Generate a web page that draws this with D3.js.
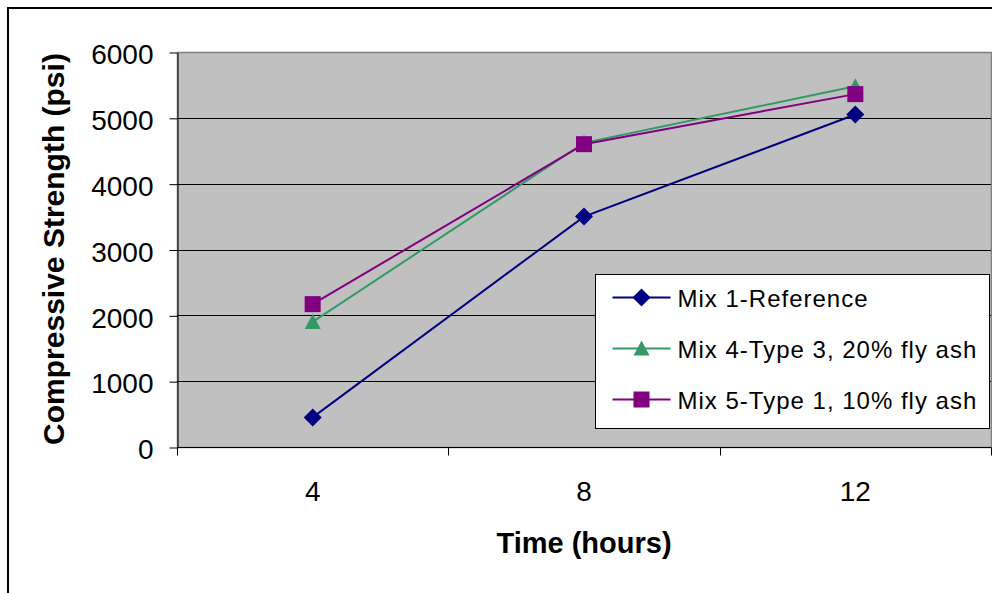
<!DOCTYPE html>
<html>
<head>
<meta charset="utf-8">
<script src="https://cdn.jsdelivr.net/npm/d3@7"></script>
<style>
  body { margin: 0; background: #fff; }
  svg { display: block; font-family: Arial, "Liberation Sans", sans-serif; }
</style>
</head>
<body>
<svg id="chart" width="992" height="593"></svg>
<script>
var hours = ["4", "8", "12"];
var mix1 = [450, 3500, 5050];
var mix4 = [1900, 4620, 5480];
var mix5 = [2170, 4600, 5360];
var seriesNames = ["Mix 1-Reference", "Mix 4-Type 3, 20% fly ash", "Mix 5-Type 1, 10% fly ash"];
var yTicks = [0, 1000, 2000, 3000, 4000, 5000, 6000];

var series = [
    {name: seriesNames[0], values: mix1, color: "#000080", shape: "diamond"},
    {name: seriesNames[1], values: mix4, color: "#339966", shape: "triangle"},
    {name: seriesNames[2], values: mix5, color: "#800080", shape: "square"}
];

var svg = d3.select("#chart");
var plotL = 177, plotT = 52, plotR = 991, plotB = 447;

// outer chart frame (right/bottom fall outside the window)
svg.append("rect")
    .attr("x", 8).attr("y", 8)
    .attr("width", 1000).attr("height", 600)
    .attr("fill", "none").attr("stroke", "#000").attr("stroke-width", 2);

var x = d3.scaleBand().domain(hours).range([plotL, plotR]);
var y = d3.scaleLinear().domain([0, 6000]).range([plotB, plotT]);

svg.append("rect")
    .attr("x", plotL + 0.5).attr("y", plotT + 0.5)
    .attr("width", plotR - plotL).attr("height", plotB - plotT)
    .attr("fill", "#c0c0c0").attr("stroke", "#808080").attr("stroke-width", 1.5);

// gridlines
svg.append("g").selectAll("line")
    .data(yTicks.slice(1, -1))
    .enter().append("line")
    .attr("x1", plotL).attr("x2", plotR)
    .attr("y1", function (d) { return Math.round(y(d)) + 0.5; })
    .attr("y2", function (d) { return Math.round(y(d)) + 0.5; })
    .attr("stroke", "#000");

// y axis
var yAxis = svg.append("g")
    .attr("transform", "translate(" + (plotL + 0.5) + ",0.5)")
    .call(d3.axisLeft(y).tickValues(yTicks).tickSize(8).tickSizeOuter(0).tickPadding(16).tickFormat(d3.format("d")));
yAxis.selectAll("text")
    .attr("font-size", 28).attr("fill", "#000").attr("dy", "0.4em")
    .attr("font-family", "Arial, 'Liberation Sans', sans-serif");
yAxis.selectAll("line, path").attr("stroke", "#000");

// x axis: ticks at band boundaries, labels at band centres
var xg = svg.append("g").attr("transform", "translate(0," + (plotB + 0.5) + ")");
xg.append("line").attr("x1", plotL).attr("x2", plotR).attr("stroke", "#000");
var bounds = hours.map(function (d) { return x(d); }).concat([plotR]);
xg.selectAll("line.tick")
    .data(bounds)
    .enter().append("line")
    .attr("class", "tick")
    .attr("x1", function (d) { return Math.round(d) + 0.5; })
    .attr("x2", function (d) { return Math.round(d) + 0.5; })
    .attr("y1", 0).attr("y2", 8)
    .attr("stroke", "#000");
xg.selectAll("text")
    .data(hours)
    .enter().append("text")
    .attr("x", function (d) { return x(d) + x.bandwidth() / 2; })
    .attr("y", 53)
    .attr("text-anchor", "middle")
    .attr("font-size", 28)
    .text(function (d) { return d; });

// axis titles
svg.append("text")
    .attr("transform", "translate(64," + 249 + ") rotate(-90)")
    .attr("text-anchor", "middle")
    .attr("font-size", 30).attr("font-weight", "bold")
    .text("Compressive Strength (psi)");
svg.append("text")
    .attr("x", 584).attr("y", 553)
    .attr("text-anchor", "middle")
    .attr("font-size", 29).attr("font-weight", "bold")
    .text("Time (hours)");

function cx(d, i) { return x(hours[i]) + x.bandwidth() / 2; }

function drawMarker(g, shape, color) {
    if (shape === "diamond") {
        g.append("path").attr("d", "M0,-9L9,0L0,9L-9,0Z").attr("fill", color);
    } else if (shape === "triangle") {
        g.append("path").attr("d", "M0,-8L8,7L-8,7Z").attr("fill", color);
    } else {
        g.append("rect").attr("x", -8).attr("y", -8).attr("width", 16).attr("height", 16).attr("fill", color);
    }
}

var line = d3.line()
    .x(function (d, i) { return cx(d, i); })
    .y(function (d) { return y(d); });

series.forEach(function (s) {
    svg.append("path")
        .attr("d", line(s.values))
        .attr("fill", "none")
        .attr("stroke", s.color)
        .attr("stroke-width", 2);
});
series.forEach(function (s) {
    s.values.forEach(function (v, i) {
        var g = svg.append("g").attr("transform", "translate(" + cx(v, i) + "," + y(v) + ")");
        drawMarker(g, s.shape, s.color);
    });
});

// legend
var lg = svg.append("g").attr("transform", "translate(595.5,274.5)");
lg.append("rect").attr("width", 394).attr("height", 154)
    .attr("fill", "#fff").attr("stroke", "#000");
series.forEach(function (s, i) {
    var ly = 23 + i * 51;
    var row = lg.append("g").attr("transform", "translate(0," + ly + ")");
    row.append("line").attr("x1", 17).attr("x2", 75).attr("stroke", s.color).attr("stroke-width", 2);
    var m = row.append("g").attr("transform", "translate(46,0)");
    drawMarker(m, s.shape, s.color);
    row.append("text")
        .attr("x", 82).attr("y", 9)
        .attr("font-size", 24)
        .attr("letter-spacing", 1)
        .text(s.name);
});
</script>
</body>
</html>
